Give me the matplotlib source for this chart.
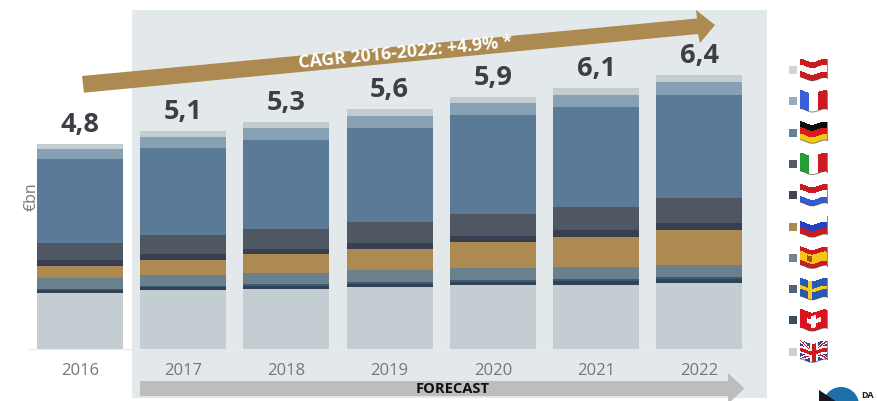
#!/usr/bin/env python3
"""Stacked bars of market size by country, 2016-2022, with flag legend."""

import numpy as np
import matplotlib
matplotlib.use("Agg")
import matplotlib.pyplot as plt
from matplotlib.patches import Polygon, Rectangle, Circle

plt.rcParams['font.family'] = ['Open Sans', 'DejaVu Sans']

years = ['2016', '2017', '2018', '2019', '2020', '2021', '2022']
total_labels = ['4,8', '5,1', '5,3', '5,6', '5,9', '6,1', '6,4']

# stacked bottom to top, EUR bn
uk = [1.31, 1.36, 1.39, 1.45, 1.48, 1.49, 1.53]
switzerland = [0.06, 0.08, 0.08, 0.07, 0.08, 0.09, 0.09]
sweden = [0.03, 0.03, 0.04, 0.04, 0.05, 0.05, 0.05]
spain = [0.24, 0.25, 0.25, 0.28, 0.27, 0.27, 0.28]
russia = [0.30, 0.36, 0.45, 0.50, 0.61, 0.71, 0.82]
netherlands = [0.13, 0.14, 0.12, 0.14, 0.15, 0.16, 0.16]
italy = [0.41, 0.43, 0.46, 0.49, 0.52, 0.55, 0.59]
germany = [1.95, 2.05, 2.10, 2.20, 2.30, 2.33, 2.42]
france = [0.24, 0.26, 0.27, 0.27, 0.28, 0.29, 0.30]
austria = [0.13, 0.14, 0.14, 0.16, 0.16, 0.16, 0.16]

stack = [uk, switzerland, sweden, spain, russia, netherlands, italy, germany, france, austria]
colors = ['#c3cdd2', '#2f4257', '#3f5a70', '#6a808c', '#ad8a52',
          '#393e52', '#4f5763', '#5b7a98', '#88a0b3', '#c3cdd1']

# legend runs top to bottom
legend_flags = ['at', 'fr', 'de', 'it', 'nl', 'ru', 'es', 'se', 'ch', 'gb']
legend_colors = ['#cfd6da', '#98abba', '#647f9b', '#525a66', '#3f4354',
                 '#ad8a52', '#73868f', '#4f6579', '#3a4c5e', '#cdd0d2']

W, H = 878, 401
PX = 42.7  # pixels per EUR bn
BASE = 348.5
STEP = 103.2
X0 = 80.0

GOLD = '#ad8a52'


def flag_rgb(name, u, v):
    """Colour of a flag at u (left-right) and v (top-bottom), both 0..1."""
    red, white, blue = (0.80, 0.10, 0.13), (0.97, 0.97, 0.97), (0.20, 0.36, 0.80)
    rgb = np.ones(u.shape + (3,))

    def paint(mask, col):
        rgb[mask] = col

    if name == 'at':
        paint(v < 2, red)
        paint((v > 1/3) & (v < 2/3), white)
    elif name == 'fr':
        paint(u < 1/3, (0.22, 0.38, 0.85))
        paint(u > 2/3, red)
    elif name == 'de':
        paint(v < 1/3, (0.05, 0.05, 0.05))
        paint((v >= 1/3) & (v < 2/3), (0.85, 0.10, 0.10))
        paint(v >= 2/3, (0.95, 0.78, 0.10))
    elif name == 'it':
        paint(u < 1/3, (0.15, 0.62, 0.22))
        paint(u > 2/3, red)
    elif name == 'nl':
        paint(v < 1/3, red)
        paint(v >= 2/3, blue)
    elif name == 'ru':
        paint((v >= 1/3) & (v < 2/3), (0.15, 0.25, 0.75))
        paint(v >= 2/3, red)
    elif name == 'es':
        paint(np.ones_like(u, dtype=bool), red)
        paint((v > 0.26) & (v < 0.74), (0.97, 0.77, 0.10))
        paint((u > 0.25) & (u < 0.42) & (v > 0.36) & (v < 0.64), (0.65, 0.30, 0.12))
    elif name == 'se':
        paint(np.ones_like(u, dtype=bool), (0.15, 0.35, 0.72))
        paint(((u > 0.28) & (u < 0.44)) | ((v > 0.41) & (v < 0.59)), (0.97, 0.80, 0.10))
    elif name == 'ch':
        paint(np.ones_like(u, dtype=bool), (0.85, 0.08, 0.12))
        arm_a = (np.abs(u - 0.5) < 0.26) & (np.abs(v - 0.5) < 0.12)
        arm_b = (np.abs(u - 0.5) < 0.09) & (np.abs(v - 0.5) < 0.32)
        paint(arm_a | arm_b, white)
    elif name == 'gb':
        paint(np.ones_like(u, dtype=bool), (0.17, 0.27, 0.65))
        d1 = np.abs((v - 0.5) - (u - 0.5))
        d2 = np.abs((v - 0.5) + (u - 0.5))
        paint((d1 < 0.12) | (d2 < 0.12), white)
        paint((d1 < 0.04) | (d2 < 0.04), red)
        paint((np.abs(u - 0.5) < 0.15) | (np.abs(v - 0.5) < 0.2), white)
        paint((np.abs(u - 0.5) < 0.08) | (np.abs(v - 0.5) < 0.1), red)
    return rgb


def draw_flag(ax, name, cy):
    """Waving flag as a warped colour mesh, centred vertically on cy."""
    ue = np.linspace(0, 1, 55)
    ve = np.linspace(0, 1, 41)
    U, V = np.meshgrid(ue, ve)
    wave = 1.9 * np.cos(2.0 * np.pi * U * 1.05 + 0.2) * (1.0 - 0.25 * U)
    X = 800.5 + 27 * U
    Y = cy - 9.5 + 18.5 * V - wave
    uc, vc = np.meshgrid((ue[:-1] + ue[1:]) / 2, (ve[:-1] + ve[1:]) / 2)
    ax.pcolormesh(X, Y, flag_rgb(name, uc, vc), shading='flat', zorder=3, rasterized=True)
    ax.plot(X[-1], Y[-1], color='#555555', lw=0.7, alpha=0.7, zorder=4)
    ax.plot(X[:, -1], Y[:, -1], color='#555555', lw=0.7, alpha=0.7, zorder=4)


fig = plt.figure(figsize=(W / 100, H / 100), dpi=100, facecolor='white')

# pixel-coordinate layer for the panel, arrows and legend
bg = fig.add_axes([0, 0, 1, 1], zorder=0)
bg.set_xlim(0, W)
bg.set_ylim(H, 0)
bg.axis('off')
bg.add_patch(Rectangle((132, 10), 635, 388, fc='#e3e8eb', ec='none'))

# bars
ax = fig.add_axes([29 / W, (H - BASE) / H, (748 - 29) / W, BASE / H], zorder=1)
ax.patch.set_alpha(0)
ax.set_xlim((29 - X0) / STEP, (748 - X0) / STEP)
ax.set_ylim(0, BASE / PX)
x = np.arange(len(years))
bottom = np.zeros(len(years))
for vals, col in zip(stack, colors):
    ax.bar(x, vals, width=86 / STEP, bottom=bottom, color=col, linewidth=0)
    bottom += np.array(vals)

for xi, top, lab in zip(x, bottom, total_labels):
    ax.annotate(lab, (xi, top), xytext=(0, 13.6), textcoords='offset points',
                ha='center', va='center', fontsize=19.5, fontweight='bold', color='#3d3f45')

for s in ['top', 'left', 'right']:
    ax.spines[s].set_visible(False)
ax.spines['bottom'].set_color('#e6eaec')
ax.set_yticks([])
ax.set_xticks(x)
ax.set_xticklabels(years, fontsize=12, color='#767676')
ax.tick_params(axis='x', length=0, pad=10.5)
ax.set_ylabel('€bn', fontsize=11.5, color='#767676', labelpad=0)
ax.yaxis.set_label_coords(0.015, 0.435)

# growth arrow
bg.add_patch(Polygon([(82, 76), (697, 18.5), (696, 10), (715, 25), (700, 43),
                      (698, 34), (84, 92.7)], fc=GOLD, ec='none', zorder=2))
bg.text(405, 53, 'CAGR 2016-2022: +4.9% *', color='white', fontsize=12.8,
        fontweight='bold', ha='center', va='center', rotation=5.6,
        rotation_mode='anchor', zorder=3)

# forecast arrow, head runs off the panel bottom
bg.add_patch(Polygon([(140, 381), (728, 381), (728, 373), (744.5, 388.5), (728, 404),
                      (728, 396), (140, 396)], fc='#bdbdbd', ec='none', zorder=2))
bg.text(453, 389, 'FORECAST', color='#111111', fontsize=10.6, fontweight='bold',
        ha='center', va='center', zorder=3)

# legend
for i, (name, col) in enumerate(zip(legend_flags, legend_colors)):
    cy = 70 + 31.3 * i
    bg.add_patch(Rectangle((789, cy - 4), 8, 8, fc=col, ec='none', zorder=3))
    draw_flag(bg, name, cy)

# corner logo
bg.add_patch(Circle((841, 405), 18, fc='#1f6fa8', ec='none', zorder=3))
bg.add_patch(Polygon([(819, 390), (840, 404), (819, 404)], fc='#15191f', ec='none', zorder=4))
bg.text(861, 391, 'DA', color='#15191f', fontsize=6.5, fontweight='bold',
        ha='left', va='top', zorder=4)

fig.savefig('out.png', dpi=100)
